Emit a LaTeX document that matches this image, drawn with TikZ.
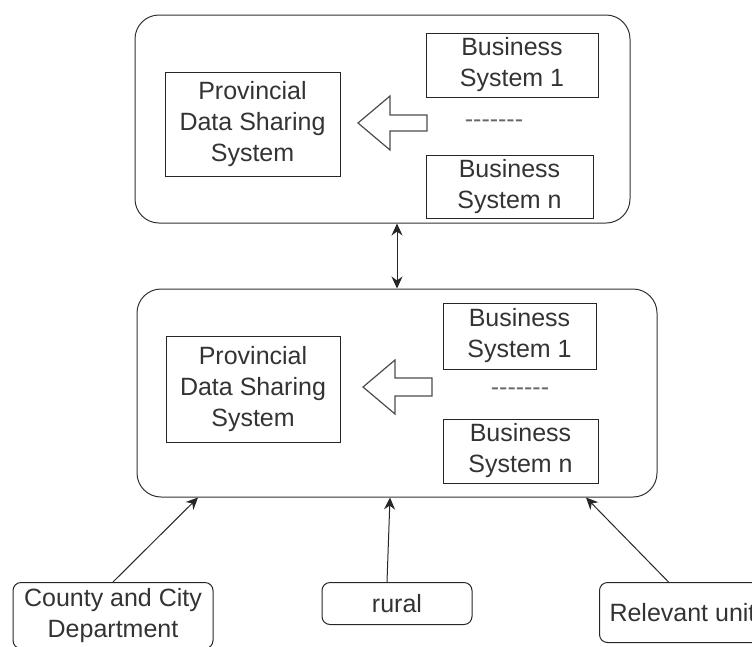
\documentclass[tikz,border=0pt]{standalone}
\usepackage{fontspec}
\setmainfont{Liberation Sans}
\usetikzlibrary{arrows.meta}

\begin{document}
\begin{tikzpicture}[x=1pt, y=-1pt, line width=1pt,
    font=\fontsize{25}{31}\selectfont,
    >={Stealth[length=12pt,width=11pt]},
    frame/.style={draw=black!80, rounded corners=24pt},
    sysbox/.style={draw=black!85, align=center, text=black!80, inner sep=0pt},
    unitbox/.style={draw=black!85, rounded corners=8pt, align=center, text=black!80, inner sep=0pt},
    hollow/.style={draw=black!70, line width=1.2pt, fill=white}]
  \useasboundingbox (0,0) rectangle (752,646);
  \clip (0,0) rectangle (752,646);

  % provincial level and the level below it
  \node[frame, minimum width=495pt, minimum height=208pt] (upper) at (382.5,119) {};
  \node[frame, minimum width=520pt, minimum height=208pt] (lower) at (397,393) {};

  % upper level
  \node[sysbox, minimum width=175pt, minimum height=104pt] (pdss1) at (252.5,124) {Provincial\\Data Sharing\\System};
  \node[sysbox, minimum width=172pt, minimum height=64pt] (bsa1) at (512,65) {Business\\System 1};
  \node[sysbox, minimum width=167pt, minimum height=63pt] (bsn1) at (509.5,186.5) {Business\\System n};
  \node[text=black!60] (dots1) at (494,124) {-{}-{}-{}-{}-{}-{}-};
  \draw[hollow] (358,123) -- ++(32,-27) -- ++(0,19) -- ++(37,0) -- ++(0,16) -- ++(-37,0) -- ++(0,19) -- cycle;

  % lower level
  \node[sysbox, minimum width=174pt, minimum height=106pt] (pdss2) at (253,389) {Provincial\\Data Sharing\\System};
  \node[sysbox, minimum width=153pt, minimum height=66pt] (bsa2) at (519.5,336) {Business\\System 1};
  \node[sysbox, minimum width=155pt, minimum height=64pt] (bsn2) at (520.5,451) {Business\\System n};
  \node[text=black!60] (dots2) at (520,392) {-{}-{}-{}-{}-{}-{}-};
  \draw[hollow] (363,387) -- ++(32,-27) -- ++(0,18) -- ++(37,0) -- ++(0,18) -- ++(-37,0) -- ++(0,18) -- cycle;

  \draw[<->, black!85] (upper.south -| lower.north) -- (lower.north);

  % sources feeding the lower level
  \node[unitbox, minimum width=200pt, minimum height=66pt, anchor=north] (county) at (113,582) {County and City\\Department};
  \node[unitbox, minimum width=150pt, minimum height=42pt, anchor=north] (rural) at (397,582) {rural};
  \node[unitbox, minimum width=166pt, minimum height=60pt, anchor=north west] (unit) at (599,582) {Relevant unit};

  \draw[->, black!85] (county.north) -- ([xshift=-199pt]lower.south);
  \draw[->, black!85] ([xshift=-10pt]rural.north) -- ([xshift=-7pt]lower.south);
  \draw[->, black!85] ([xshift=-14pt]unit.north) -- ([xshift=189pt]lower.south);
\end{tikzpicture}
\end{document}
